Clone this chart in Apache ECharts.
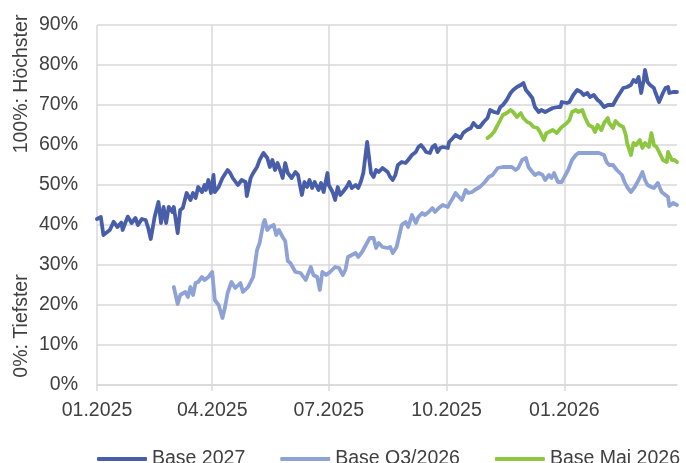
<!DOCTYPE html>
<html>
<head>
<meta charset="utf-8">
<script src="https://cdn.jsdelivr.net/npm/echarts@6/dist/echarts.min.js"></script>
<style>
html,body{margin:0;padding:0;background:#fff;}
#c{width:686px;height:463px;}
</style>
</head>
<body>
<div id="c"></div>
<script>
// ---- data (values in %) ----
const seriesNames = ['Base 2027', 'Base Q3/2026', 'Base Mai 2026'];
const xTickDates = ['2025-01-01','2025-04-01','2025-07-01','2025-10-01','2026-01-01'];
const xMin = '2025-01-01';
const xMax = '2026-03-30';
const yMin = 0, yMax = 90, yStep = 10;

const base2027 = [
['2025-01-01',41.5],['2025-01-04',42],['2025-01-06',37.5],['2025-01-11',38.75],['2025-01-14',40.8],['2025-01-17',39.5],['2025-01-20',40.6],['2025-01-21',38.75],['2025-01-25',42.1],['2025-01-28',40.5],['2025-01-31',41.75],
['2025-02-02',40],['2025-02-05',41.5],['2025-02-08',41.25],['2025-02-10',39.25],['2025-02-12',36.5],['2025-02-15',42],['2025-02-18',45.75],['2025-02-20',40.5],['2025-02-22',44.5],['2025-02-24',40.5],['2025-02-26',44.5],
['2025-03-01',43.25],['2025-03-02',44.5],['2025-03-05',38],['2025-03-07',43.75],['2025-03-09',44.25],['2025-03-12',48],['2025-03-15',46.25],['2025-03-17',48],['2025-03-19',46.75],['2025-03-21',49.5],['2025-03-24',48.25],['2025-03-26',50],['2025-03-27',48.75],['2025-03-29',51.25],['2025-03-31',48],
['2025-04-02',52.5],['2025-04-03',48.25],['2025-04-06',49.5],['2025-04-09',51.75],['2025-04-13',53.75],['2025-04-15',53],['2025-04-17',51.75],['2025-04-21',50],['2025-04-24',51.25],['2025-04-27',50.75],['2025-04-28',47.25],
['2025-05-01',51.75],['2025-05-03',53],['2025-05-06',54.5],['2025-05-08',56.25],['2025-05-11',58],['2025-05-14',56.75],['2025-05-16',54.5],['2025-05-18',56.25],['2025-05-20',53.75],['2025-05-22',55.5],['2025-05-24',53.75],['2025-05-26',51.75],['2025-05-28',55.5],['2025-05-30',53],
['2025-06-02',51.75],['2025-06-05',53.25],['2025-06-07',52.5],['2025-06-10',47.5],['2025-06-12',50.75],['2025-06-14',49.5],['2025-06-16',51.25],['2025-06-18',49.25],['2025-06-20',50.75],['2025-06-23',48.75],['2025-06-25',50.5],['2025-06-27',48.25],['2025-06-30',53],
['2025-07-01',50],['2025-07-04',48.25],['2025-07-06',46.25],['2025-07-08',49.5],['2025-07-10',47.5],['2025-07-12',48.25],['2025-07-15',49.5],['2025-07-17',50.75],['2025-07-19',49.25],['2025-07-22',50],['2025-07-24',49.25],['2025-07-26',50.75],['2025-07-28',53],['2025-07-29',53.25],['2025-07-31',60.75],
['2025-08-02',55.5],['2025-08-03',53],['2025-08-05',52],['2025-08-07',53.75],['2025-08-09',53.25],['2025-08-12',54.25],['2025-08-16',53.25],['2025-08-18',52],['2025-08-20',51.25],['2025-08-22',52.5],['2025-08-24',55],['2025-08-27',55.75],['2025-08-30',55.5],
['2025-09-01',56.25],['2025-09-04',57.5],['2025-09-07',58.25],['2025-09-09',59.5],['2025-09-11',60],['2025-09-13',59.25],['2025-09-15',58.25],['2025-09-18',58],['2025-09-20',59.5],['2025-09-22',60],['2025-09-24',58.25],['2025-09-26',59.25],['2025-09-28',59.5],
['2025-10-02',59.25],['2025-10-03',60.75],['2025-10-06',61.75],['2025-10-08',62.5],['2025-10-09',63],['2025-10-12',61.75],['2025-10-14',63],['2025-10-17',63.75],['2025-10-20',64.25],['2025-10-22',65.5],['2025-10-25',64.5],['2025-10-27',64.5],['2025-10-30',65.75],
['2025-11-02',66.75],['2025-11-04',68.75],['2025-11-07',68.25],['2025-11-10',68],['2025-11-12',69.5],['2025-11-14',70],['2025-11-17',71.25],['2025-11-20',73],['2025-11-22',73.75],['2025-11-25',74.5],['2025-11-28',75],['2025-11-30',75.5],
['2025-12-02',73.75],['2025-12-04',73],['2025-12-07',71.75],['2025-12-09',69.5],['2025-12-12',68.25],['2025-12-14',68.75],['2025-12-17',68.25],['2025-12-20',68.75],['2025-12-23',69.25],['2025-12-27',69.5],['2025-12-29',69.5],['2025-12-30',70.75],
['2026-01-03',70.5],['2026-01-05',70.75],['2026-01-08',72.5],['2026-01-11',73.75],['2026-01-14',73.25],['2026-01-16',72.5],['2026-01-19',73],['2026-01-21',72],['2026-01-24',72.5],['2026-01-27',71.25],['2026-01-29',70.75],
['2026-02-01',69.5],['2026-02-04',70],['2026-02-06',70],['2026-02-08',70],['2026-02-11',71.75],['2026-02-14',73.25],['2026-02-16',74.25],['2026-02-19',74.5],['2026-02-22',75],['2026-02-24',76.25],['2026-02-26',75.75],['2026-02-28',77],
['2026-03-02',73],['2026-03-04',76.25],['2026-03-05',78.75],['2026-03-07',75.75],['2026-03-09',75],['2026-03-12',74.25],['2026-03-13',73.25],['2026-03-16',70.75],['2026-03-19',73],['2026-03-21',74.25],['2026-03-23',74.5],['2026-03-24',73],['2026-03-27',73.25],['2026-03-30',73.25]
];

const baseQ3_2026 = [
['2025-03-02',24.5],['2025-03-05',20.25],['2025-03-07',22.5],['2025-03-11',23.25],['2025-03-13',22],['2025-03-15',24.5],['2025-03-17',22.5],['2025-03-19',25.5],['2025-03-21',25.75],['2025-03-24',27],['2025-03-26',26.25],['2025-03-29',27],
['2025-04-01',28.25],['2025-04-03',21.25],['2025-04-06',20],['2025-04-09',16.75],['2025-04-11',19.5],['2025-04-13',23],['2025-04-16',25.75],['2025-04-19',24.25],['2025-04-23',25.5],['2025-04-25',23.25],['2025-04-29',24.5],
['2025-05-03',27],['2025-05-06',33.75],['2025-05-08',35.5],['2025-05-11',40.5],['2025-05-12',41.25],['2025-05-14',38.75],['2025-05-16',39.5],['2025-05-19',40],['2025-05-21',37.5],['2025-05-23',38.75],['2025-05-26',37],['2025-05-28',36],['2025-05-30',31],
['2025-06-01',30.5],['2025-06-05',28.25],['2025-06-09',28],['2025-06-13',26.25],['2025-06-17',29.5],['2025-06-19',27.5],['2025-06-22',27],['2025-06-24',23.75],['2025-06-26',28.25],['2025-06-29',27.5],
['2025-07-02',28.25],['2025-07-06',29.5],['2025-07-09',29.25],['2025-07-12',27.5],['2025-07-14',28.75],['2025-07-16',32],['2025-07-19',32.5],['2025-07-22',33],['2025-07-24',32],['2025-07-27',33.25],['2025-07-30',35],
['2025-08-02',36.75],['2025-08-05',36.75],['2025-08-07',34.25],['2025-08-09',35.5],['2025-08-12',34.5],['2025-08-16',34.25],['2025-08-18',34.5],['2025-08-20',33],['2025-08-23',34.5],['2025-08-24',34.25],['2025-08-27',40],['2025-08-30',40.75],
['2025-09-01',39.5],['2025-09-04',42.5],['2025-09-07',40.5],['2025-09-09',42],['2025-09-12',43],['2025-09-14',42.5],['2025-09-17',43.25],['2025-09-20',44.25],['2025-09-22',43.25],['2025-09-25',44.25],['2025-09-28',45],
['2025-10-02',44.5],['2025-10-04',45.75],['2025-10-06',46.75],['2025-10-08',48],['2025-10-10',47.25],['2025-10-13',46.25],['2025-10-16',48.75],['2025-10-18',48],['2025-10-21',48.25],['2025-10-23',48.75],['2025-10-27',49.5],['2025-10-31',50.75],
['2025-11-03',52],['2025-11-06',52.5],['2025-11-10',54.25],['2025-11-14',54.5],['2025-11-17',54.5],['2025-11-21',54.5],['2025-11-24',53.75],['2025-11-26',54.25],['2025-11-29',56.25],
['2025-12-02',56.75],['2025-12-04',54.5],['2025-12-07',53.25],['2025-12-09',52.5],['2025-12-12',53],['2025-12-15',52.5],['2025-12-17',51.25],['2025-12-20',52.5],['2025-12-22',51.75],['2025-12-24',53],['2025-12-27',50.75],['2025-12-30',50.75],
['2026-01-01',52],['2026-01-04',53.75],['2026-01-07',56.25],['2026-01-10',57.5],['2026-01-12',58],['2026-01-16',58],['2026-01-20',58],['2026-01-24',58],['2026-01-28',58],
['2026-02-01',57.5],['2026-02-03',55.75],['2026-02-05',55],['2026-02-08',55],['2026-02-11',53.75],['2026-02-15',52.5],['2026-02-17',50.75],['2026-02-19',49.5],['2026-02-22',48.25],['2026-02-25',49.5],['2026-02-28',51.25],
['2026-03-03',53.25],['2026-03-05',51.25],['2026-03-07',50],['2026-03-10',49.5],['2026-03-12',49.25],['2026-03-15',50.5],['2026-03-18',48.25],['2026-03-20',47.75],['2026-03-23',47],['2026-03-24',44.75],['2026-03-27',45.5],['2026-03-30',45]
];

const baseMai2026 = [
['2025-11-02',61.75],['2025-11-05',62.5],['2025-11-07',63.25],['2025-11-10',65],['2025-11-12',66.25],['2025-11-14',67.5],['2025-11-17',68],['2025-11-20',68.75],['2025-11-22',68.25],['2025-11-25',67],['2025-11-28',68],['2025-11-30',66.75],
['2025-12-03',65.75],['2025-12-05',65.5],['2025-12-08',64.5],['2025-12-11',64.25],['2025-12-13',63.25],['2025-12-16',61.25],['2025-12-18',63],['2025-12-20',63.25],['2025-12-23',63.75],['2025-12-26',63],['2025-12-28',63.75],['2025-12-30',64.5],
['2026-01-03',65.5],['2026-01-05',66.25],['2026-01-07',68.25],['2026-01-10',68.75],['2026-01-12',68.25],['2026-01-15',68.75],['2026-01-17',67],['2026-01-20',65],['2026-01-23',64.5],['2026-01-25',63.25],['2026-01-27',65],['2026-01-30',63.75],
['2026-02-01',65.5],['2026-02-04',66.75],['2026-02-05',65.5],['2026-02-08',64.25],['2026-02-10',66],['2026-02-13',65],['2026-02-16',64.5],['2026-02-18',62.5],['2026-02-19',60.5],['2026-02-22',57.5],['2026-02-24',60.5],['2026-02-26',60],
['2026-03-01',61.25],['2026-03-03',59.25],['2026-03-05',60.5],['2026-03-08',59.5],['2026-03-10',63],['2026-03-12',60],['2026-03-14',59.5],['2026-03-16',58.25],['2026-03-19',56.25],['2026-03-22',55.75],['2026-03-23',58.25],['2026-03-26',56.25],['2026-03-28',56.25],['2026-03-30',55.75]
];

const colors = ['#485ea8', '#8ea2d6', '#8dc63f'];
const FONT = '"Liberation Sans", Arial, sans-serif';
const TXT = '#404040';
const GRID = '#d9d9d9';
const FS = 19.5;
const LW = 3.8;

function ts(s){ const p = s.split('-').map(Number); return Date.UTC(p[0], p[1]-1, p[2]); }
function pad(n){ return (n<10?'0':'')+n; }
function toXY(arr){ return arr.map(function(d){ return [ts(d[0]), d[1]]; }); }

const chart = echarts.init(document.getElementById('c'), null, {renderer:'canvas'});
const xTicks = xTickDates.map(ts);

chart.setOption({
  animation: false,
  textStyle: {fontFamily: FONT},
  grid: {left: 97, right: 9, top: 25, bottom: 78, containLabel: false},
  xAxis: {
    type: 'value',
    min: ts(xMin), max: ts(xMax),
    axisLine: {show: true, lineStyle: {color: GRID, width: 1.5}},
    axisTick: {show: true, length: 6, lineStyle: {color: GRID, width: 1.5}, customValues: xTicks},
    axisLabel: {
      customValues: xTicks, fontSize: FS, color: TXT, margin: 16, fontFamily: FONT,
      formatter: function(v){ const d = new Date(v); return pad(d.getUTCMonth()+1) + '.' + d.getUTCFullYear(); }
    },
    splitLine: {show: true, lineStyle: {color: GRID, width: 1.5}}
  },
  yAxis: {
    type: 'value', min: yMin, max: yMax, interval: yStep,
    axisLine: {show: false}, axisTick: {show: false},
    axisLabel: {formatter: '{value}%', fontSize: FS, color: TXT, margin: 19, fontFamily: FONT},
    splitLine: {show: true, lineStyle: {color: GRID, width: 1.5}}
  },
  legend: {
    left: 92, top: 444, icon: 'roundRect', itemWidth: 50, itemHeight: 4, itemGap: 35,
    textStyle: {fontSize: FS, color: TXT, fontFamily: FONT},
    data: seriesNames
  },
  graphic: [
    {type: 'text', x: 22, y: 84, rotation: Math.PI/2,
     style: {text: '100%: Höchster', fontSize: FS, fill: TXT, fontFamily: FONT, textAlign: 'center', textVerticalAlign: 'middle'}},
    {type: 'text', x: 22, y: 326, rotation: Math.PI/2,
     style: {text: '0%: Tiefster', fontSize: FS, fill: TXT, fontFamily: FONT, textAlign: 'center', textVerticalAlign: 'middle'}}
  ],
  series: [
    {name: seriesNames[0], type: 'line', data: toXY(base2027), showSymbol: false, color: colors[0], lineStyle: {width: LW, join: 'round', cap: 'round'}},
    {name: seriesNames[1], type: 'line', data: toXY(baseQ3_2026), showSymbol: false, color: colors[1], lineStyle: {width: LW, join: 'round', cap: 'round'}},
    {name: seriesNames[2], type: 'line', data: toXY(baseMai2026), showSymbol: false, color: colors[2], lineStyle: {width: LW, join: 'round', cap: 'round'}}
  ]
});
</script>
</body>
</html>
